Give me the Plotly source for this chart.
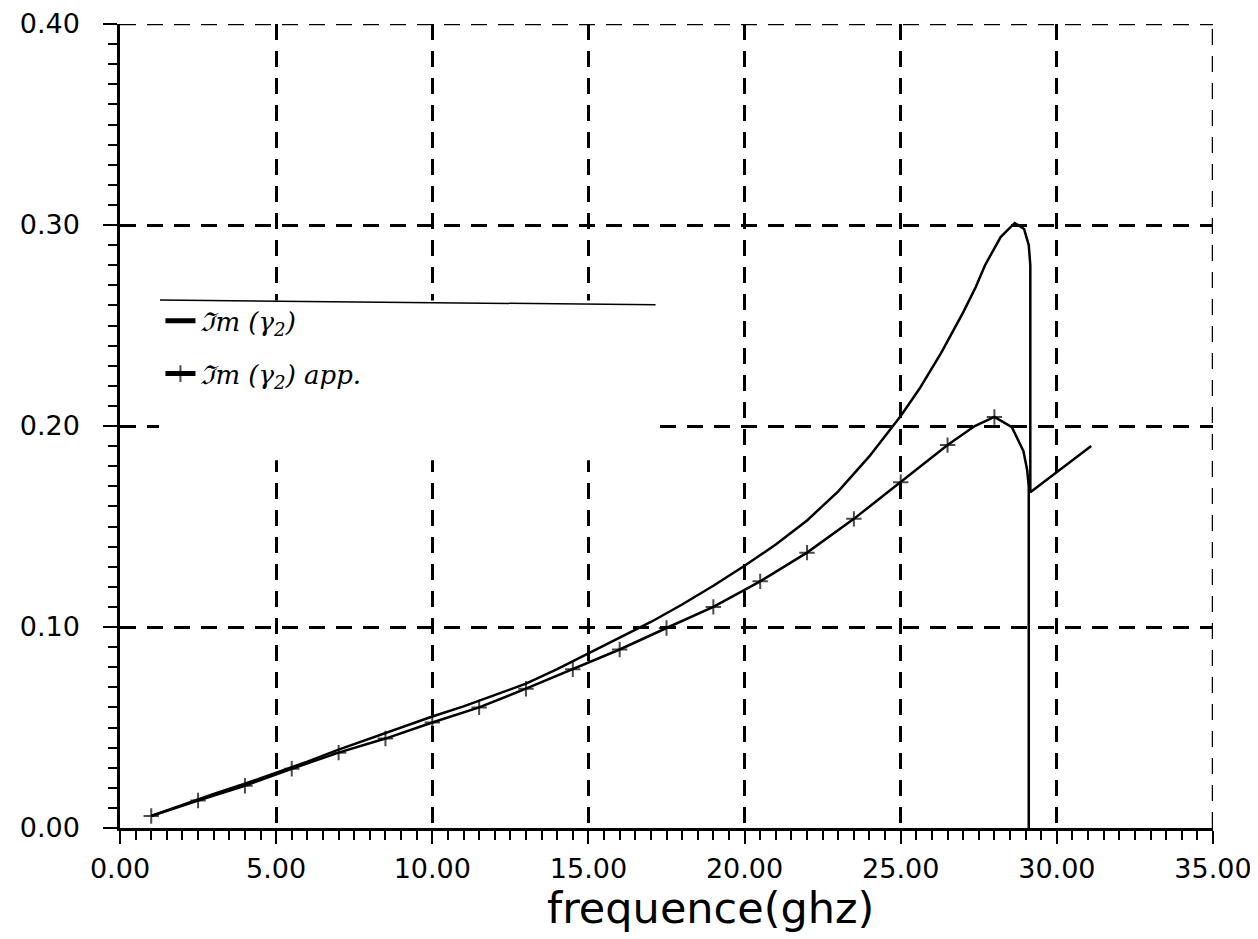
import plotly.graph_objects as go

# ---- data ----
# Im(gamma2): exact solution (solid line)
im_x = [1, 2, 3, 4, 5, 6, 7, 8, 9, 10, 11, 12, 13, 14, 15, 16, 17, 18, 19, 20,
        21, 22, 23, 24, 25, 25.6, 26.3, 27.0, 27.4, 27.7, 28.2, 28.65, 28.95, 29.1,
        29.15, 29.15, 30.0, 31.1]
im_y = [0.006, 0.0115, 0.017, 0.022, 0.0275, 0.033, 0.039, 0.0445, 0.050, 0.0555,
        0.0605, 0.066, 0.0718, 0.0790, 0.0868, 0.0945, 0.1025, 0.1112, 0.1205, 0.1305,
        0.141, 0.153, 0.1675, 0.185, 0.205, 0.2185, 0.2365, 0.2565, 0.269, 0.280,
        0.294, 0.301, 0.298, 0.290, 0.280, 0.167, 0.177, 0.190]

# Im(gamma2) approximation (line with + markers every 1.5 GHz)
app_x = [1, 2.5, 4, 5.5, 7, 8.5, 10, 11.5, 13, 14.5, 16, 17.5, 19, 20.5, 22, 23.5,
         25, 26.5, 27.37, 28, 28.56, 28.93, 29.05, 29.1, 29.1]
app_y = [0.006, 0.0137, 0.021, 0.0295, 0.0375, 0.0445, 0.0525, 0.060, 0.0693,
         0.079, 0.0888, 0.0995, 0.110, 0.1227, 0.137, 0.1538, 0.172, 0.1905, 0.200,
         0.2045, 0.1994, 0.1875, 0.178, 0.170, 0.0]
app_marked = [1, 1, 1, 1, 1, 1, 1, 1, 1, 1, 1, 1, 1, 1, 1, 1, 1, 1, 0, 1, 0, 0, 0, 0, 0]

x_ticks = [0, 5, 10, 15, 20, 25, 30, 35]
x_tick_labels = ["0.00", "5.00", "10.00", "15.00", "20.00", "25.00", "30.00", "35.00"]
y_ticks = [0.0, 0.1, 0.2, 0.3, 0.4]
y_tick_labels = ["0.00", "0.10", "0.20", "0.30", "0.40"]

name_exact = "ℑm (γ<sub>2</sub>)"
name_app = "ℑm (γ<sub>2</sub>) app."
x_title = "frequence(ghz)"

X_MAX = 35
Y_MAX = 0.4

fig = go.Figure()
fig.add_trace(go.Scatter(
    x=im_x, y=im_y, mode="lines", name=name_exact, legendgroup="a",
    line=dict(color="black", width=2.5),
))
fig.add_trace(go.Scatter(
    x=app_x, y=app_y, mode="lines+markers", name=name_app, legendgroup="b",
    line=dict(color="black", width=2.5),
    marker=dict(symbol="cross-thin", size=[11 if m else 0 for m in app_marked],
                line=dict(color="black", width=2), color="black"),
))

tickfont = dict(family="DejaVu Sans", size=27, color="black")
dash = "16px,11px"

fig.update_xaxes(
    range=[0, X_MAX], tickvals=x_ticks, ticktext=x_tick_labels, tickfont=tickfont,
    showline=True, linecolor="black", linewidth=2.5, mirror=False,
    ticks="outside", ticklen=13, tickwidth=2, tickcolor="black",
    minor=dict(dtick=0.5, ticks="outside", ticklen=9, tickwidth=2, tickcolor="black",
               showgrid=False),
    showgrid=True, gridcolor="black", gridwidth=2.5, griddash=dash,
    zeroline=False, ticklabelstandoff=2, automargin=False,
)
fig.update_yaxes(
    range=[0, Y_MAX], tickvals=y_ticks, ticktext=y_tick_labels, tickfont=tickfont,
    showline=True, linecolor="black", linewidth=2.5, mirror=False,
    ticks="outside", ticklen=14, tickwidth=2, tickcolor="black",
    minor=dict(dtick=0.01, ticks="outside", ticklen=9, tickwidth=2, tickcolor="black",
               showgrid=False),
    showgrid=True, gridcolor="black", gridwidth=2.5, griddash=dash,
    zeroline=False, ticklabelstandoff=18, automargin=False,
)

# dashed border grid lines at the top (0.40) and right (35.00) edges
fig.add_shape(type="line", xref="x", yref="y", x0=0, x1=X_MAX, y0=Y_MAX, y1=Y_MAX,
              line=dict(color="black", width=2.5, dash=dash), layer="between")
fig.add_shape(type="line", xref="x", yref="y", x0=X_MAX, x1=X_MAX, y0=0, y1=Y_MAX,
              line=dict(color="black", width=2.5, dash=dash), layer="between")

# pasted-on legend label area (erases grid behind it) and its top edge line
fig.add_shape(type="rect", xref="x", yref="y", x0=1.25, x1=17.05, y0=0.183, y1=0.2625,
              fillcolor="white", line=dict(width=0), layer="between")
fig.add_shape(type="line", xref="x", yref="y", x0=1.28, x1=17.15, y0=0.2627, y1=0.2603,
              line=dict(color="black", width=1.5), layer="between")

fig.add_annotation(
    text=x_title, xref="paper", yref="paper", x=0.54, y=-0.1,
    xanchor="center", yanchor="middle", showarrow=False,
    font=dict(family="DejaVu Sans", size=43, color="black"),
)

# the page body has an 8px margin, so the figure is sized to fit the 1258x939 window
fig.update_layout(
    width=1250, height=931,
    margin=dict(l=112, r=45, t=16, b=111),
    paper_bgcolor="white", plot_bgcolor="white",
    showlegend=True,
    legend=dict(x=0.037, y=0.66, xanchor="left", yanchor="top",
                bgcolor="rgba(0,0,0,0)", tracegroupgap=16, itemsizing="constant",
                font=dict(family="DejaVu Serif", size=26, color="black", style="italic")),
)

fig.write_html("out.html")
